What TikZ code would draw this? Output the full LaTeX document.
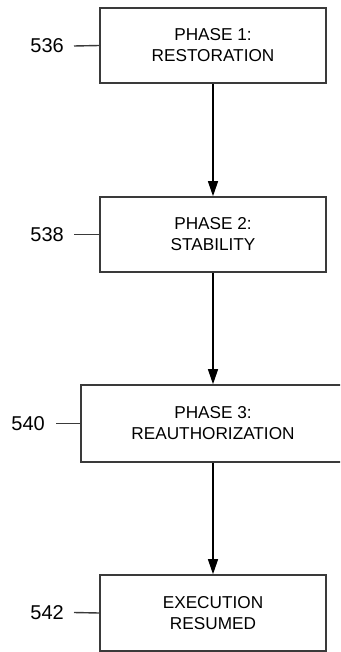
\documentclass[tikz,border=0pt]{standalone}
\usepackage{fontspec}
\setmainfont{Liberation Sans}
\usetikzlibrary{arrows.meta}
\definecolor{boxgray}{HTML}{3A3A3A}
\tikzset{
  stepbox/.style={draw=boxgray, line width=1.6pt, minimum width=226pt, minimum height=75pt,
    align=center, font=\fontsize{17.2pt}{21pt}\selectfont, inner sep=0pt},
  reflabel/.style={anchor=east, inner sep=0pt, font=\fontsize{20pt}{24pt}\selectfont},
  refline/.style={draw=boxgray, line width=1.4pt},
  flow/.style={draw=black, line width=1.2pt, -{Triangle[length=15pt,width=10pt]}}
}
\begin{document}
\begin{tikzpicture}[x=1pt,y=-1pt]
\useasboundingbox (0,0) rectangle (340,652);
\clip (0,0) rectangle (340,652);
\node[stepbox] (b1) at (213,45.5) {PHASE 1:\\RESTORATION};
\node[stepbox] (b2) at (213,234.5) {PHASE 2:\\STABILITY};
\node[stepbox, minimum width=264pt, minimum height=77pt] (b3) at (213,423.5) {PHASE 3:\\REAUTHORIZATION};
\node[stepbox, minimum height=76pt] (b4) at (213,613) {EXECUTION\\RESUMED};
\node[reflabel] (l1) at (64,46) {536};
\node[reflabel] (l2) at (64,234.5) {538};
\node[reflabel] (l3) at (45,423.5) {540};
\node[reflabel] (l4) at (64,612.5) {542};
\draw[refline] ([xshift=10pt]l1.east) -- (b1.west);
\draw[refline] ([xshift=10pt]l2.east) -- (b2.west);
\draw[refline] ([xshift=11pt]l3.east) -- (b3.west);
\draw[refline] ([xshift=10pt]l4.east) -- (b4.west);
\draw[flow] (b1.south) -- (b2.north);
\draw[flow] (b2.south) -- (b3.north);
\draw[flow] (b3.south) -- (b4.north);
\end{tikzpicture}
\end{document}
